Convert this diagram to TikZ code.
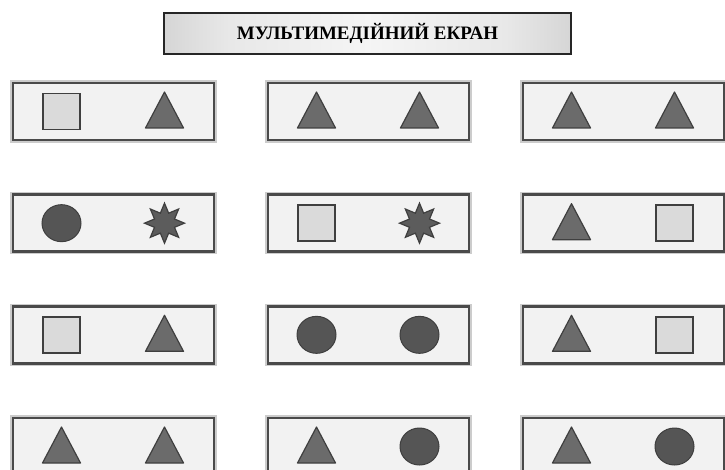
\documentclass[tikz,border=0pt]{standalone}
\usepackage{fontspec}
\setmainfont{Liberation Serif}
\usetikzlibrary{shapes.geometric}
\definecolor{panelfill}{HTML}{F2F2F2}
\definecolor{paneledge}{HTML}{4A4A4A}
\definecolor{sqfill}{HTML}{DADADA}
\definecolor{trifill}{HTML}{6B6B6B}
\definecolor{circfill}{HTML}{555555}
\definecolor{starfill}{HTML}{5C5C5C}
\definecolor{shapeedge}{HTML}{3F3F3F}
\pgfdeclarehorizontalshading{titleshade}{100bp}{color(0bp)=(black!75); color(3bp)=(black!60); color(12bp)=(black!28); color(33bp)=(black!9); color(50bp)=(black!4); color(67bp)=(black!9); color(88bp)=(black!28); color(97bp)=(black!60); color(100bp)=(black!75)}
\tikzset{
  titlebox/.style={shading=titleshade, draw=black!85, line width=1.8pt, minimum width=407pt, minimum height=41pt, inner sep=0pt, font=\bfseries\fontsize{19}{21}\selectfont},
  panel/.style={fill=panelfill, draw=paneledge, line width=2.6pt, minimum width=201pt, minimum height=57pt, inner sep=0pt,
    preaction={draw=black!20, line width=5.5pt}},
  sqstyle/.style={fill=sqfill, draw=shapeedge, line width=1.4pt},
  tristyle/.style={fill=trifill, draw=shapeedge, line width=1.2pt, line join=round},
  circstyle/.style={fill=circfill, draw=shapeedge, line width=1pt},
  starstyle/.style={star, star points=8, star point ratio=1.85, minimum size=40pt, inner sep=0pt, fill=starfill, draw=shapeedge, line width=1.2pt},
  pics/sqr/.style={code={\draw[sqstyle] (-18.5,-18) rectangle (18.5,18);}},
  pics/trio/.style={code={\draw[tristyle] (-19,16.5) -- (19,16.5) -- (0,-19.5) -- cycle;}},
  pics/circ/.style={code={\draw[circstyle] (0,0) ellipse [x radius=19.5, y radius=18.5];}},
  pics/starr/.style={code={\node[starstyle] {};}}
}
\begin{document}
\begin{tikzpicture}[x=1pt,y=-1pt]
\useasboundingbox (0,0) rectangle (725,470);
\clip (0,0) rectangle (725,470);
\fill[white] (0,0) rectangle (725,470);
\node[titlebox] (title) at (367.5,33.5) {МУЛЬТИМЕДІЙНИЙ ЕКРАН};
\foreach \r/\c/\L/\R in {0/0/sqr/trio, 0/1/trio/trio, 0/2/trio/trio,
                         1/0/circ/starr, 1/1/sqr/starr, 1/2/trio/sqr,
                         2/0/sqr/trio, 2/1/circ/circ, 2/2/trio/sqr,
                         3/0/trio/trio, 3/1/trio/circ, 3/2/trio/circ}{
  \pgfmathsetmacro{\cx}{113.5+255*\c}
  \pgfmathsetmacro{\cy}{111.5+111.67*\r}
  \node[panel] (b\r\c) at (\cx,\cy) {};
  \pic at ([xshift=-52pt]b\r\c.center) {\L};
  \pic at ([xshift=51pt]b\r\c.center) {\R};
}
\end{tikzpicture}
\end{document}
